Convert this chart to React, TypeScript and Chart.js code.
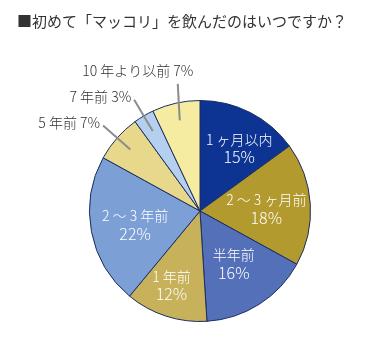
import React, { useEffect, useRef } from "react";
import { Chart, registerables } from "chart.js";

Chart.register(...registerables);

const TITLE = "■初めて「マッコリ」を飲んだのはいつですか？";
const categories = ["1 ヶ月以内", "2 ～ 3 ヶ月前", "半年前", "1 年前", "2 ～ 3 年前", "5 年前", "7 年前", "10 年より以前"];
const values = [15, 18, 16, 12, 22, 7, 3, 7];
const colors = ["#0d3493", "#b29a2f", "#5470b8", "#c7b15a", "#7c9fd5", "#e7d88b", "#b5d0ef", "#f5eca2"];

// label placement per slice: inside radius factor, or outside
const inside = [true, true, true, true, true, false, false, false];
const insideR = [0.67, 0.6, 0.57, 0.72, 0.6, 0, 0, 0];
const insideAngOff = [5, 2, 0, 3, -1, 0, 0, 0];

const FONT = "'Noto Sans CJK JP'";

const labelPlugin = {
  id: "labels",
  afterDraw(chart: any) {
    const ctx = chart.ctx;
    ctx.save();
    ctx.fillStyle = "#333333";
    ctx.font = `15px ${FONT}`;
    ctx.textBaseline = "middle";
    ctx.textAlign = "left";
    ctx.fillText(TITLE, 17, 21);

    const meta = chart.getDatasetMeta(0);
    meta.data.forEach((arc: any, i: number) => {
      const { x, y, startAngle, endAngle, outerRadius } = arc.getProps(["x", "y", "startAngle", "endAngle", "outerRadius"], true);
      const mid = (startAngle + endAngle) / 2;
      const pct = values[i] + "%";
      if (inside[i]) {
        const a = mid + (insideAngOff[i] * Math.PI) / 180;
        const r = outerRadius * insideR[i];
        const cx = x + Math.cos(a) * r;
        const cy = y + Math.sin(a) * r;
        ctx.fillStyle = "#ffffff";
        ctx.textAlign = "center";
        ctx.font = `300 14px ${FONT}`;
        ctx.fillText(categories[i], cx, cy - 9);
        ctx.font = `300 16px ${FONT}`;
        ctx.fillText(pct, cx, cy + 9);
      } else {
        const r1 = outerRadius * 0.84;
        const r2 = outerRadius * 1.17;
        const x1 = x + Math.cos(mid) * r1;
        const y1 = y + Math.sin(mid) * r1;
        let x2 = x + Math.cos(mid) * r2;
        let y2 = y + Math.sin(mid) * r2;
        if (i === 7) {
          x2 = x1 - 2;
          y2 = y - outerRadius * 1.15;
        }
        ctx.strokeStyle = "#8c8c8c";
        ctx.lineWidth = 2;
        ctx.beginPath();
        ctx.moveTo(x1, y1);
        ctx.lineTo(x2, y2);
        ctx.stroke();
        ctx.fillStyle = "#333333";
        ctx.font = `300 14px ${FONT}`;
        const text = categories[i] + " " + pct;
        if (i === 7) {
          ctx.textAlign = "center";
          ctx.fillText(text, x2 - 40, y2 - 13);
        } else {
          ctx.textAlign = "right";
          ctx.fillText(text, x2 - 3, y2 - 3);
        }
      }
    });
    ctx.restore();
  },
};

export default function App() {
  const ref = useRef<HTMLCanvasElement>(null);
  useEffect(() => {
    document.body.style.margin = "0";
    const chart = new Chart(ref.current!, {
      type: "pie",
      data: {
        labels: categories,
        datasets: [
          {
            data: values,
            backgroundColor: colors,
            borderColor: "#1c2d5e",
            borderWidth: 1,
          },
        ],
      },
      options: {
        animation: false,
        responsive: false,
        layout: { padding: { left: 89, right: 64, top: 100, bottom: 30 } },
        plugins: { legend: { display: false }, tooltip: { enabled: false } },
      },
      plugins: [labelPlugin],
    });
    return () => chart.destroy();
  }, []);
  return (
    <div style={{ width: 375, height: 352, background: "#ffffff" }}>
      <canvas ref={ref} width={375} height={352} />
    </div>
  );
}
